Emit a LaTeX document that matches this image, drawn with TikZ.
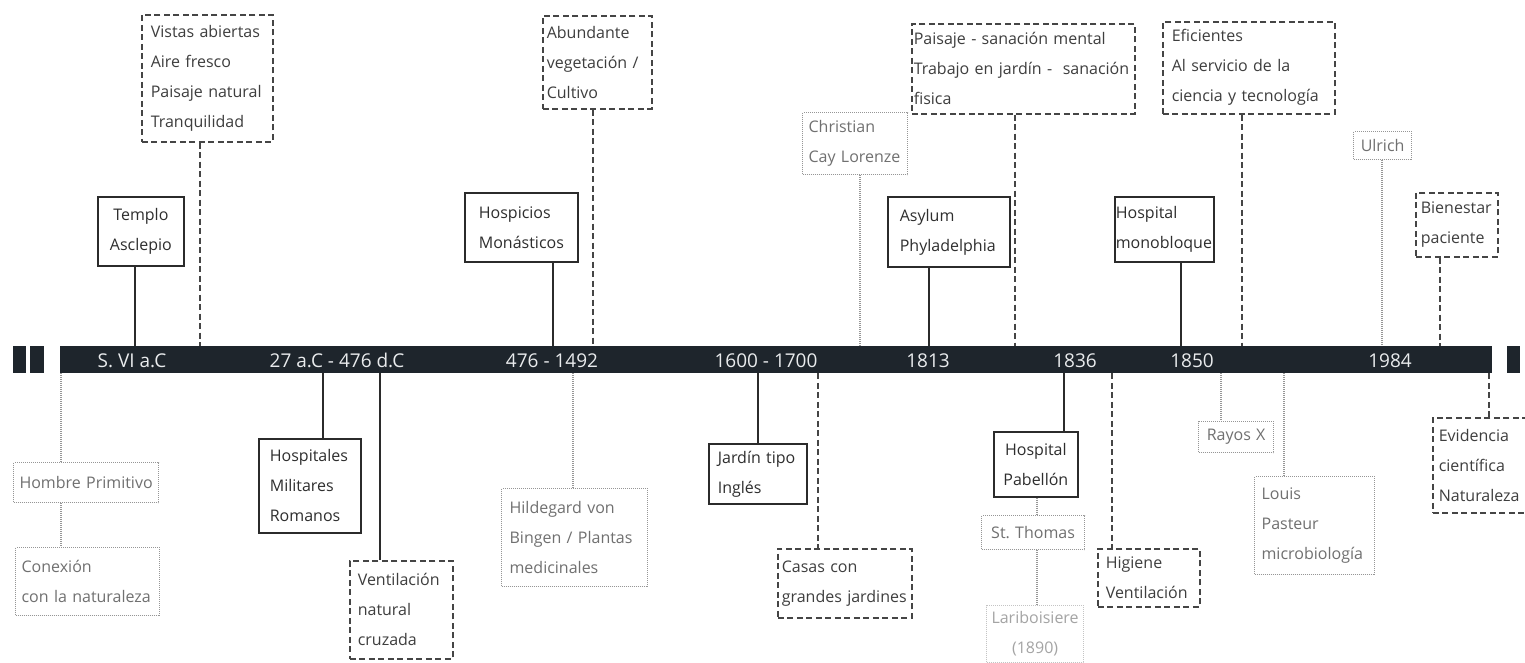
\documentclass[tikz,border=0pt]{standalone}
\usepackage{fontspec}
\setmainfont{Open Sans}
\definecolor{cBar}{HTML}{1E252C}
\definecolor{cBarText}{HTML}{E9EBED}
\definecolor{cSolid}{HTML}{2B2B2B}
\definecolor{cText}{HTML}{2E2E2E}
\definecolor{cDash}{HTML}{454545}
\definecolor{cDText}{HTML}{3E3E3E}
\definecolor{cDot}{HTML}{969696}
\definecolor{cDotText}{HTML}{707070}
\definecolor{cFaint}{HTML}{C4C4C4}
\definecolor{cFaintText}{HTML}{A4A4A4}
\tikzset{
  base/.style={anchor=north west, inner ysep=0pt, font=\fontsize{16}{30}\selectfont},
  sbox/.style={base, draw=cSolid, line width=1.7pt, text=cText},
  dbox/.style={base, draw=cDash, line width=1.6pt, dash pattern=on 6pt off 3.5pt, text=cDText},
  obox/.style={base, draw=cDot, line width=1.2pt, dash pattern=on 1pt off 1pt, text=cDotText},
  fbox/.style={base, draw=cFaint, line width=1.2pt, dash pattern=on 1pt off 1pt, text=cFaintText},
  sline/.style={draw=cSolid, line width=1.7pt},
  dline/.style={draw=cDash, line width=1.6pt, dash pattern=on 6pt off 3.5pt},
  oline/.style={draw=cDot, line width=1.2pt, dash pattern=on 1pt off 1pt},
  barbox/.style={anchor=north west, inner sep=0pt, fill=cBar, draw=none, minimum height=27pt},
  bartext/.style={anchor=base, inner sep=0pt, text=cBarText, font=\fontsize{19}{20}\selectfont}
}
\begin{document}
\begin{tikzpicture}[x=1pt,y=-1pt]
\useasboundingbox[fill=white] (0,0) rectangle (1525,663);

% timeline bar
\node[barbox, minimum width=1432pt] (bar) at (60,346) {};
\node[barbox, minimum width=13pt] (lb1) at (13,346) {};
\node[barbox, minimum width=14pt] (lb2) at (30,346) {};
\node[barbox, minimum width=13pt] (rb) at (1507,346) {};

\node[bartext] (d1) at (132,367) {S. VI a.C};
\node[bartext] (d2) at (337,367) {27 a.C - 476 d.C};
\node[bartext] (d3) at (552,367) {476 - 1492};
\node[bartext] (d4) at (766,367) {1600 - 1700};
\node[bartext] (d5) at (928,367) {1813};
\node[bartext] (d6) at (1075,367) {1836};
\node[bartext] (d7) at (1192,367) {1850};
\node[bartext] (d8) at (1390,367) {1984};

% top boxes
\node[sbox, align=center, minimum width=86pt, minimum height=69pt, text width=80pt, inner xsep=3pt] (templo) at (97,196) {Templo\\Asclepio};
\node[dbox, align=left, minimum width=131pt, minimum height=127pt, text width=113pt, inner xsep=9pt] (vistas) at (141,14) {Vistas abiertas\\Aire fresco\\Paisaje natural\\Tranquilidad};
\node[sbox, align=left, minimum width=113pt, minimum height=69pt, text width=85pt, inner xsep=14pt] (hospicios) at (464,192) {Hospicios\\Monásticos};
\node[dbox, align=left, minimum width=109pt, minimum height=93pt, text width=101pt, inner xsep=4pt] (abundante) at (542,15) {Abundante\\vegetación /\\Cultivo};
\node[obox, align=left, minimum width=105pt, minimum height=62pt, text width=93pt, inner xsep=6pt] (christian) at (802,112) {Christian\\Cay Lorenze};
\node[dbox, align=left, minimum width=223pt, minimum height=90pt, text width=219pt, inner xsep=2pt] (paisaje) at (911,23) {Paisaje - sanación mental\\Trabajo en jardín -~ sanación\\fisica};
\node[sbox, align=left, minimum width=122pt, minimum height=70pt, text width=98pt, inner xsep=12pt] (asylum) at (887,196) {Asylum\\Phyladelphia};
\node[sbox, align=left, minimum width=99pt, minimum height=65pt, text width=97pt, inner xsep=1pt] (monobloque) at (1114,196) {Hospital\\monobloque};
\node[dbox, align=left, minimum width=172pt, minimum height=92pt, text width=154pt, inner xsep=9pt] (eficientes) at (1162,21) {Eficientes\\Al servicio de la\\ciencia y tecnología};
\node[obox, align=center, minimum width=58pt, minimum height=28pt, text width=54pt, inner xsep=2pt] (ulrich) at (1353,131) {Ulrich};
\node[dbox, align=left, minimum width=82pt, minimum height=64pt, text width=72pt, inner xsep=5pt] (bienestar) at (1415,192) {Bienestar\\paciente};

% bottom boxes
\node[obox, align=center, minimum width=145pt, minimum height=40pt, text width=141pt, inner xsep=2pt] (hombre) at (13,462) {Hombre Primitivo};
\node[obox, align=left, minimum width=144pt, minimum height=68pt, text width=132pt, inner xsep=6pt] (conexion) at (15,547) {Conexión\\con la naturaleza};
\node[sbox, align=left, minimum width=102pt, minimum height=94pt, text width=80pt, inner xsep=11pt] (hospitales) at (258,438) {Hospitales\\Militares\\Romanos};
\node[dbox, align=left, minimum width=103pt, minimum height=98pt, text width=87pt, inner xsep=8pt] (ventilacion) at (349,560) {Ventilación\\natural\\cruzada};
\node[obox, align=left, minimum width=146pt, minimum height=98pt, text width=130pt, inner xsep=8pt] (hildegard) at (501,488) {Hildegard von\\Bingen / Plantas\\medicinales};
\node[sbox, align=left, minimum width=98pt, minimum height=60pt, text width=80pt, inner xsep=9pt] (jardin) at (708,443) {Jardín tipo\\Inglés};
\node[dbox, align=left, minimum width=134pt, minimum height=69pt, text width=126pt, inner xsep=4pt] (casas) at (777,548) {Casas con\\grandes jardines};
\node[sbox, align=center, minimum width=84pt, minimum height=65pt, text width=80pt, inner xsep=2pt] (pabellon) at (993,431) {Hospital\\Pabellón};
\node[obox, align=center, minimum width=103pt, minimum height=34pt, text width=99pt, inner xsep=2pt] (thomas) at (981,515) {St.\ Thomas};
\node[fbox, align=center, minimum width=97pt, minimum height=57pt, text width=93pt, inner xsep=2pt] (lariboisiere) at (986,605) {Lariboisiere\\(1890)};
\node[dbox, align=left, minimum width=102pt, minimum height=58pt, text width=86pt, inner xsep=8pt] (higiene) at (1097,548) {Higiene\\Ventilación};
\node[obox, align=center, minimum width=75pt, minimum height=31pt, text width=71pt, inner xsep=2pt] (rayos) at (1198,421) {Rayos X};
\node[obox, align=left, minimum width=120pt, minimum height=98pt, text width=106pt, inner xsep=7pt] (pasteur) at (1254,476) {Louis\\Pasteur\\microbiología};
\node[dbox, align=left, minimum width=100pt, minimum height=95pt, text width=88pt, inner xsep=6pt] (evidencia) at (1432,417) {Evidencia\\científica\\Naturaleza};

% connector x positions
\coordinate (xa) at (135,0);
\coordinate (xb) at (200,0);
\coordinate (xc) at (553,0);
\coordinate (xd) at (593,0);
\coordinate (xe) at (860,0);
\coordinate (xf) at (1015,0);
\coordinate (xg) at (929,0);
\coordinate (xh) at (1181,0);
\coordinate (xi) at (1242,0);
\coordinate (xj) at (1382,0);
\coordinate (xk) at (1440,0);
\coordinate (ya) at (61,0);
\coordinate (yb) at (323,0);
\coordinate (yc) at (380,0);
\coordinate (yd) at (573,0);
\coordinate (ye) at (758,0);
\coordinate (yf) at (818,0);
\coordinate (yg) at (1064,0);
\coordinate (yh) at (1037,0);
\coordinate (yi) at (1112,0);
\coordinate (yj) at (1221,0);
\coordinate (yk) at (1284,0);
\coordinate (yl) at (1489,0);

% top connectors
\draw[sline] (templo.south -| xa) -- (bar.north -| xa);
\draw[dline] (vistas.south -| xb) -- (bar.north -| xb);
\draw[sline] (hospicios.south -| xc) -- (bar.north -| xc);
\draw[dline] (abundante.south -| xd) -- (bar.north -| xd);
\draw[oline] (christian.south -| xe) -- (bar.north -| xe);
\draw[dline] (paisaje.south -| xf) -- (bar.north -| xf);
\draw[sline] (asylum.south -| xg) -- (bar.north -| xg);
\draw[sline] (monobloque.south -| xh) -- (bar.north -| xh);
\draw[dline] (eficientes.south -| xi) -- (bar.north -| xi);
\draw[oline] (ulrich.south -| xj) -- (bar.north -| xj);
\draw[dline] (bienestar.south -| xk) -- (bar.north -| xk);

% bottom connectors
\draw[oline] (bar.south -| ya) -- (hombre.north -| ya);
\draw[oline] (hombre.south -| ya) -- (conexion.north -| ya);
\draw[sline] (bar.south -| yb) -- (hospitales.north -| yb);
\draw[sline] (bar.south -| yc) -- (ventilacion.north -| yc);
\draw[oline] (bar.south -| yd) -- (hildegard.north -| yd);
\draw[sline] (bar.south -| ye) -- (jardin.north -| ye);
\draw[dline] (bar.south -| yf) -- (casas.north -| yf);
\draw[sline] (bar.south -| yg) -- (pabellon.north -| yg);
\draw[oline] (pabellon.south -| yh) -- (thomas.north -| yh);
\draw[oline] (thomas.south -| yh) -- (lariboisiere.north -| yh);
\draw[dline] (bar.south -| yi) -- (higiene.north -| yi);
\draw[oline] (bar.south -| yj) -- (rayos.north -| yj);
\draw[oline] (bar.south -| yk) -- (pasteur.north -| yk);
\draw[dline] (bar.south -| yl) -- (evidencia.north -| yl);
\end{tikzpicture}
\end{document}
